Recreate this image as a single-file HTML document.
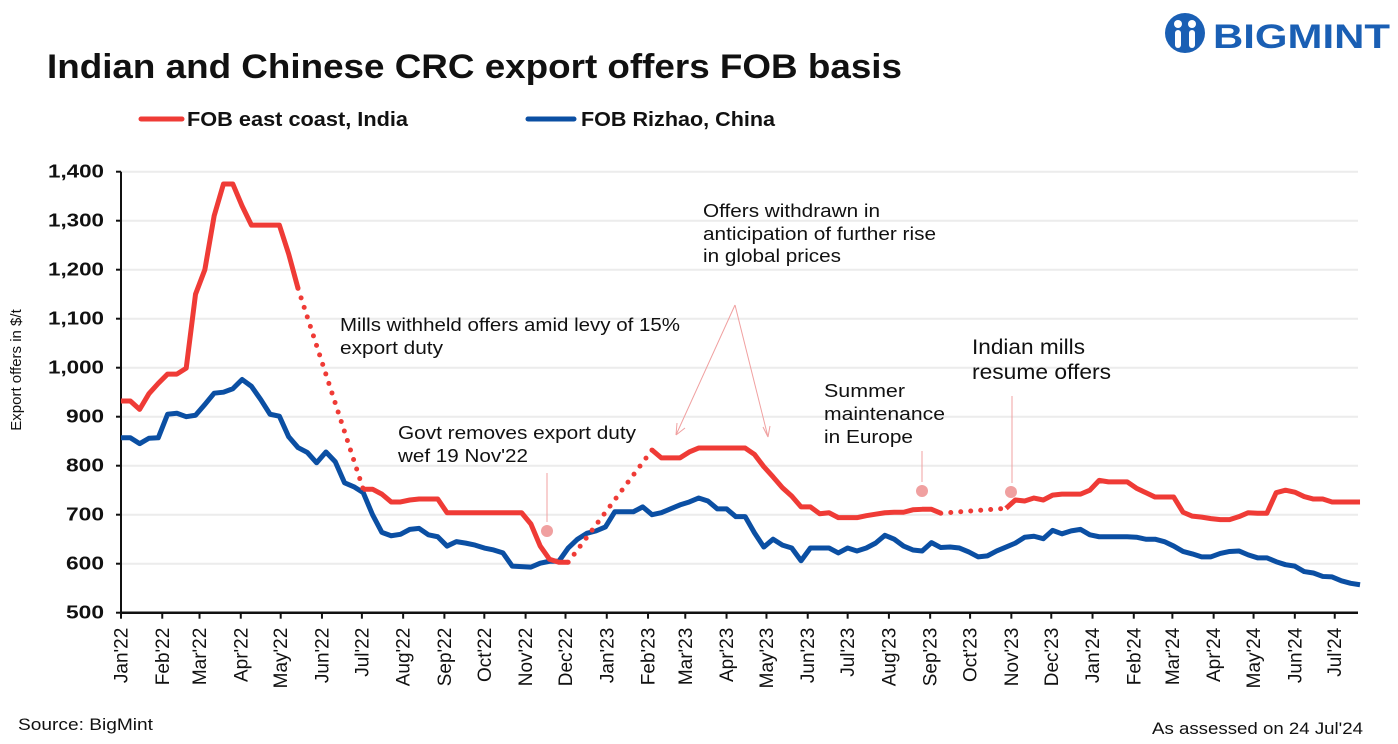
<!DOCTYPE html>
<html><head><meta charset="utf-8">
<style>
body{margin:0;background:#fff;width:1398px;height:744px;overflow:hidden;font-family:"Liberation Sans",sans-serif;}
svg{display:block}
</style></head>
<body>
<svg id="chart" width="1398" height="744" viewBox="0 0 1398 744">
<text x="47" y="78" font-size="34" font-weight="bold" fill="#111" textLength="855" lengthAdjust="spacingAndGlyphs">Indian and Chinese CRC export offers FOB basis</text>
<g>
<circle cx="1185" cy="33" r="20" fill="#1a5fb4"/>
<circle cx="1178" cy="24" r="4" fill="#fff"/><circle cx="1192" cy="24" r="4" fill="#fff"/>
<rect x="1175" y="30" width="6" height="18" rx="3" fill="#fff"/><rect x="1189" y="30" width="6" height="18" rx="3" fill="#fff"/>
<text x="1213" y="48" font-size="34" font-weight="bold" fill="#1a5fb4" textLength="177" lengthAdjust="spacingAndGlyphs">BIGMINT</text>
</g>
<g>
<g><line x1="141" y1="119" x2="182" y2="119" stroke="#ef3b36" stroke-width="5" stroke-linecap="round"/><text x="187" y="126" font-size="20" font-weight="bold" fill="#111" textLength="221" lengthAdjust="spacingAndGlyphs">FOB east coast, India</text></g>
<g><line x1="528" y1="119" x2="574" y2="119" stroke="#0b4fa3" stroke-width="5" stroke-linecap="round"/><text x="581" y="126" font-size="20" font-weight="bold" fill="#111" textLength="194" lengthAdjust="spacingAndGlyphs">FOB Rizhao, China</text></g>
</g>
<text transform="translate(21,370) rotate(-90)" text-anchor="middle" font-size="15" fill="#111">Export offers in $/t</text>
<g id="grid"></g><g id="axes"></g><g id="series"></g>
<g font-size="18" fill="#111">
<text x="340" y="331" textLength="340" lengthAdjust="spacingAndGlyphs">Mills withheld offers amid levy of 15%</text>
<text x="340" y="354" textLength="103" lengthAdjust="spacingAndGlyphs">export duty</text>
<text x="398" y="439" textLength="238" lengthAdjust="spacingAndGlyphs">Govt removes export duty</text>
<text x="398" y="462" textLength="130" lengthAdjust="spacingAndGlyphs">wef 19 Nov'22</text>
<line x1="547" y1="473" x2="547" y2="522" stroke="#f0a0a0" stroke-width="1"/><circle cx="547" cy="531" r="6" fill="#f0a0a0"/>
<text x="703" y="217" textLength="177" lengthAdjust="spacingAndGlyphs">Offers withdrawn in</text>
<text x="703" y="240" textLength="233" lengthAdjust="spacingAndGlyphs">anticipation of further rise</text>
<text x="703" y="262" textLength="138" lengthAdjust="spacingAndGlyphs">in global prices</text>
<g stroke="#f0a0a0" stroke-width="1" fill="none"><path d="M735 305 L676 435 M676 435 L677 423 M676 435 L685 428"/><path d="M735 305 L768 437 M768 437 L763 427 M768 437 L770 426"/></g>
<text x="824" y="397" textLength="81" lengthAdjust="spacingAndGlyphs">Summer</text>
<text x="824" y="420" textLength="121" lengthAdjust="spacingAndGlyphs">maintenance</text>
<text x="824" y="443" textLength="89" lengthAdjust="spacingAndGlyphs">in Europe</text>
<line x1="922" y1="451" x2="922" y2="482" stroke="#f0a0a0" stroke-width="1"/><circle cx="922" cy="491" r="6" fill="#f0a0a0"/>
<text x="972" y="354" font-size="21" textLength="113" lengthAdjust="spacingAndGlyphs">Indian mills</text>
<text x="972" y="379" font-size="21" textLength="139" lengthAdjust="spacingAndGlyphs">resume offers</text>
<line x1="1012" y1="396" x2="1012" y2="483" stroke="#f0a0a0" stroke-width="1"/><circle cx="1011" cy="492" r="6" fill="#f0a0a0"/>
</g>
<text x="18" y="730" font-size="17" fill="#111" textLength="135" lengthAdjust="spacingAndGlyphs">Source: BigMint</text>
<text x="1152" y="734" font-size="17" fill="#111" textLength="211" lengthAdjust="spacingAndGlyphs">As assessed on 24 Jul'24</text>
</svg>
<script>
const yTicks=[500,600,700,800,900,1000,1100,1200,1300,1400];
const monthLabels=["Jan'22","Feb'22","Mar'22","Apr'22","May'22","Jun'22","Jul'22","Aug'22","Sep'22","Oct'22","Nov'22","Dec'22","Jan'23","Feb'23","Mar'23","Apr'23","May'23","Jun'23","Jul'23","Aug'23","Sep'23","Oct'23","Nov'23","Dec'23","Jan'24","Feb'24","Mar'24","Apr'24","May'24","Jun'24","Jul'24"];
const india=[932,932,915,947,968,987,987,999,1150,1200,1310,1375,1375,1330,1291,1291,1291,1291,1232,1162,null,null,null,null,null,null,752,752,742,726,726,730,732,732,732,704,704,704,704,704,704,704,704,704,681,636,609,603,603,null,null,null,null,null,null,null,null,832,816,816,816,828,836,836,836,836,836,836,823,798,777,755,738,716,716,702,704,694,694,694,698,701,704,705,705,710,711,711,703,null,null,null,null,null,null,713,730,728,734,730,740,742,742,742,750,770,767,767,767,754,745,736,736,736,705,697,695,692,690,690,696,704,703,703,745,750,746,737,732,732,726,726,726,726];
const china=[857,857,845,856,857,905,907,900,903,925,948,950,957,976,962,935,905,901,859,837,827,806,828,808,765,757,745,700,664,657,660,670,672,659,655,636,645,642,638,632,628,622,595,594,593,601,605,605,632,650,662,667,675,706,706,706,716,700,704,712,720,726,734,728,712,712,696,696,663,634,650,638,632,606,632,632,632,622,632,626,632,642,658,650,636,628,626,643,633,634,632,624,614,616,626,634,642,654,656,651,668,661,667,670,659,655,655,655,655,654,650,650,645,636,625,620,614,614,621,625,626,618,612,612,604,598,595,584,581,574,573,565,560,557];
const X0=121,DX=9.316,Y0=612.7,PPU=0.49;
const NS="http://www.w3.org/2000/svg";
function xOf(i){return X0+i*DX;}
function yOf(v){return Y0-(v-500)*PPU;}
function mk(tag,attrs,parent){const e=document.createElementNS(NS,tag);for(const k in attrs)e.setAttribute(k,attrs[k]);parent.appendChild(e);return e;}
const grid=document.getElementById('grid'),axes=document.getElementById('axes'),series=document.getElementById('series');
yTicks.forEach(v=>{
  if(v>500){const g=mk('line',{x1:X0,x2:1358,y1:yOf(v),y2:yOf(v),stroke:'#ececec','stroke-width':2},grid);
  
  }
  mk('line',{x1:X0-5,x2:X0,y1:yOf(v),y2:yOf(v),stroke:'#111','stroke-width':2},axes);
  const s=v.toLocaleString('en-US');
  const t=mk('text',{x:104,y:yOf(v)+6,'text-anchor':'end','font-size':18,'font-weight':'bold',fill:'#111',textLength:s.length>3?56:38,lengthAdjust:'spacingAndGlyphs'},axes);
  t.textContent=s;
  
  
});
mk('line',{x1:X0,x2:X0,y1:yOf(1400),y2:Y0+1,stroke:'#111','stroke-width':2},axes);
mk('line',{x1:X0,x2:1358,y1:Y0,y2:Y0,stroke:'#111','stroke-width':2.5},axes);
monthLabels.forEach((m,k)=>{
  const d=new Date(Date.UTC(2022,k,1));const days=(d-Date.UTC(2022,0,1))/86400000;
  const x=xOf(days/7);
  mk('line',{x1:x,x2:x,y1:Y0,y2:Y0+6,stroke:'#111','stroke-width':2},axes);
  const t=mk('text',{transform:`translate(${x+6.5},${Y0+15}) rotate(-90)`,'text-anchor':'end','font-size':19,fill:'#111'},axes);
  t.textContent=m;
  
  
});
function draw(vals,color,name,dotGaps){
  let seg=[];const segs=[];
  vals.forEach((v,i)=>{if(v==null){if(seg.length)segs.push(seg);seg=[];}else seg.push([xOf(i),yOf(v)]);});
  if(seg.length)segs.push(seg);
  segs.forEach((s,j)=>{
    const p=mk('polyline',{points:s.map(q=>q.join(',')).join(' '),fill:'none',stroke:color,'stroke-width':5,'stroke-linejoin':'round'},series);
    
    
    if(dotGaps&&j<segs.length-1){
      const a=s[s.length-1],b=segs[j+1][0];
      const g=mk('line',{x1:a[0],y1:a[1],x2:b[0],y2:b[1],stroke:color,'stroke-width':5,'stroke-dasharray':'0 10','stroke-linecap':'round'},series);
      
      
    }
  });
}
draw(china,'#0b4fa3','china-series',false);
draw(india,'#ef3b36','india-series',true);
</script>
</body></html>
